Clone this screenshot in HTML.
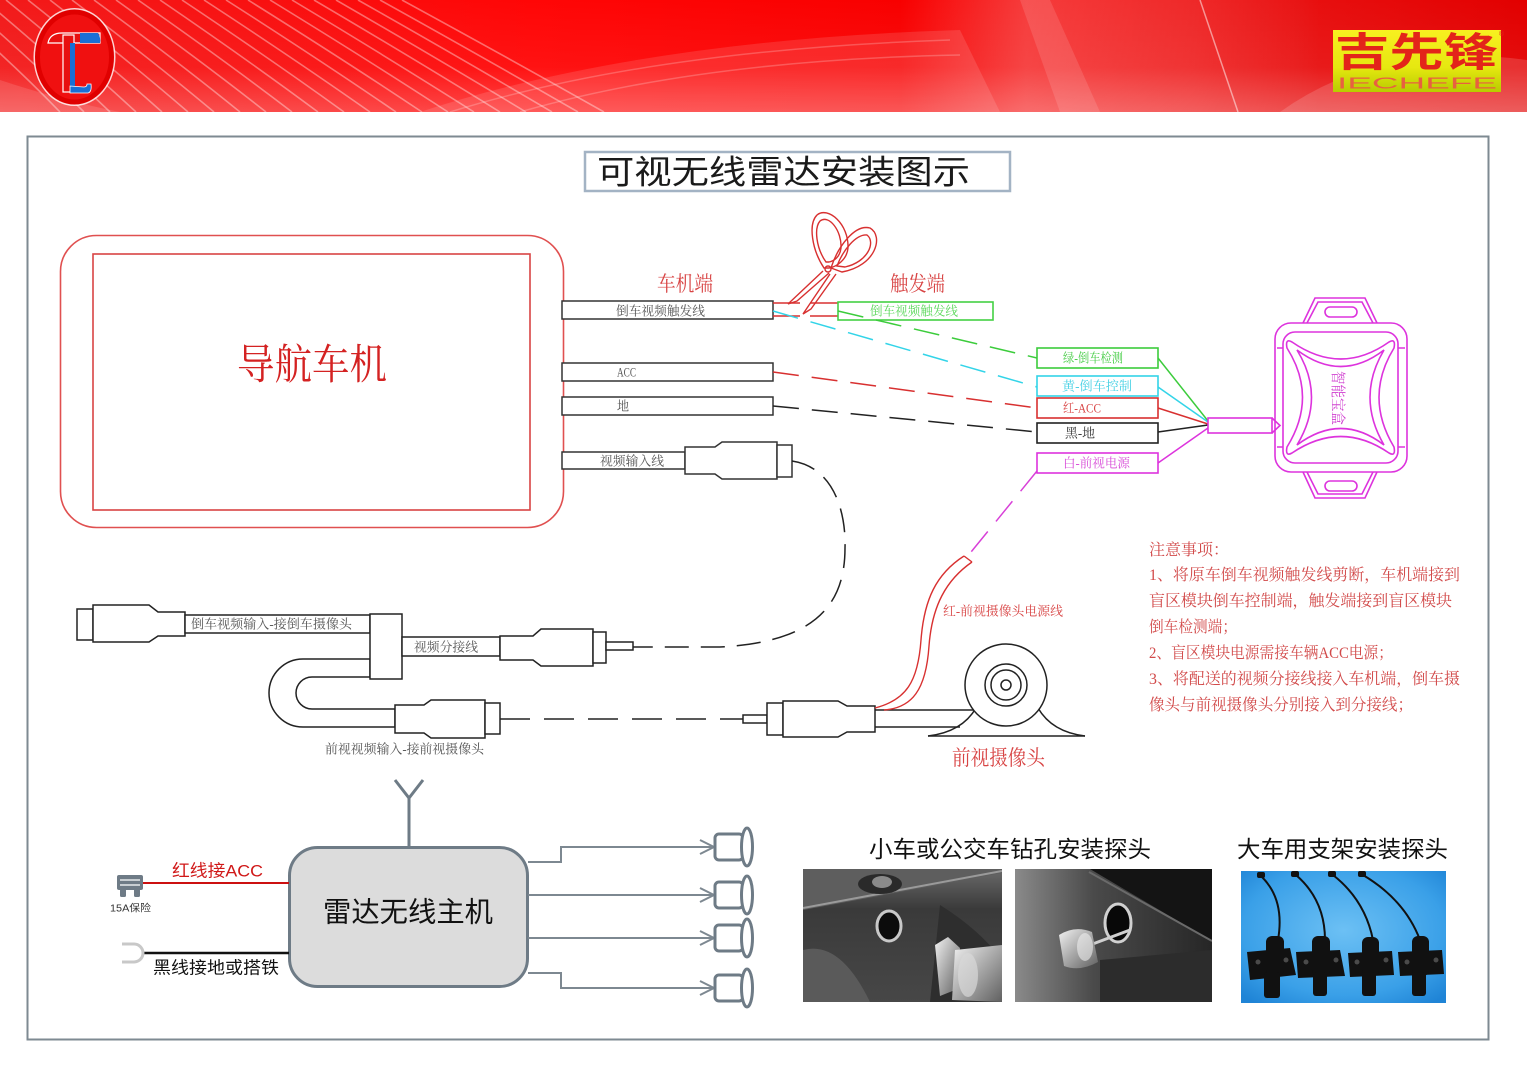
<!DOCTYPE html>
<html>
<head>
<meta charset="utf-8">
<style>
html,body{margin:0;padding:0;background:#fff;}
body{width:1527px;height:1080px;overflow:hidden;position:relative;}
svg{position:absolute;left:0;top:0;}
.sans{font-family:"Liberation Sans","Noto Sans CJK SC",sans-serif;}
.serif{font-family:"Liberation Serif","Noto Serif CJK SC",serif;}
</style>
</head>
<body>
<svg width="1527" height="1080" viewBox="0 0 1527 1080" xmlns="http://www.w3.org/2000/svg">
<defs>
  <linearGradient id="hdr" x1="0" y1="0" x2="1" y2="0">
    <stop offset="0" stop-color="#f21a1a"/>
    <stop offset="0.35" stop-color="#ff0606"/>
    <stop offset="0.6" stop-color="#f80000"/>
    <stop offset="0.85" stop-color="#e81010"/>
    <stop offset="1" stop-color="#e20000"/>
  </linearGradient>
  <linearGradient id="hdrv" x1="0" y1="0" x2="0" y2="1">
    <stop offset="0" stop-color="#fff" stop-opacity="0"/>
    <stop offset="0.6" stop-color="#fff" stop-opacity="0.05"/>
    <stop offset="1" stop-color="#fff" stop-opacity="0.25"/>
  </linearGradient>
  <linearGradient id="sheen" x1="0" y1="0" x2="1" y2="0">
    <stop offset="0" stop-color="#fff" stop-opacity="0"/>
    <stop offset="0.3" stop-color="#fff" stop-opacity="0.22"/>
    <stop offset="0.7" stop-color="#fff" stop-opacity="0.12"/>
    <stop offset="1" stop-color="#fff" stop-opacity="0"/>
  </linearGradient>
  <linearGradient id="logoY" x1="0" y1="0" x2="0" y2="1">
    <stop offset="0" stop-color="#f8f020"/>
    <stop offset="0.6" stop-color="#e6e810"/>
    <stop offset="1" stop-color="#b8cc00"/>
  </linearGradient>
  <linearGradient id="silver" x1="0" y1="0" x2="1" y2="1">
    <stop offset="0" stop-color="#f2f2f2"/>
    <stop offset="0.5" stop-color="#a8a8a8"/>
    <stop offset="1" stop-color="#606060"/>
  </linearGradient>
  <linearGradient id="p1" x1="0" y1="0" x2="0" y2="1">
    <stop offset="0" stop-color="#6a6a6a"/>
    <stop offset="0.3" stop-color="#3a3a3a"/>
    <stop offset="1" stop-color="#474747"/>
  </linearGradient>
  <linearGradient id="p2" x1="0" y1="0" x2="1" y2="0">
    <stop offset="0" stop-color="#8a8a8a"/>
    <stop offset="0.4" stop-color="#4a4a4a"/>
    <stop offset="1" stop-color="#262626"/>
  </linearGradient>
  <radialGradient id="p3" cx="0.5" cy="0.45" r="0.7">
    <stop offset="0" stop-color="#6cc0f4"/>
    <stop offset="0.7" stop-color="#3aa0e8"/>
    <stop offset="1" stop-color="#1f84d6"/>
  </radialGradient>
  <clipPath id="c1"><rect x="803" y="869" width="199" height="133"/></clipPath>
  <clipPath id="c2"><rect x="1015" y="869" width="197" height="133"/></clipPath>
  <clipPath id="c3"><rect x="1241" y="871" width="205" height="132"/></clipPath>
  <clipPath id="chdr"><rect x="0" y="0" width="1527" height="112"/></clipPath>
</defs>

<!-- ================= HEADER ================= -->
<g clip-path="url(#chdr)">
  <rect x="0" y="0" width="1527" height="112" fill="url(#hdr)"/>
  <g fill="none" stroke="#fff" stroke-opacity="0.38" stroke-width="1.6">
    <path d="M-60,0 Q10,60 60,112"/>
    <path d="M-38,0 Q32,60 84,112"/>
    <path d="M-16,0 Q56,60 110,112"/>
    <path d="M6,0 Q80,60 136,112"/>
    <path d="M28,0 Q104,60 162,112"/>
    <path d="M50,0 Q128,60 188,112"/>
    <path d="M72,0 Q152,60 214,112"/>
    <path d="M94,0 Q176,60 240,112"/>
    <path d="M116,0 Q200,60 266,112"/>
    <path d="M138,0 Q224,60 292,112"/>
    <path d="M160,0 Q248,60 318,112"/>
    <path d="M182,0 Q272,60 344,112"/>
    <path d="M204,0 Q296,60 370,112"/>
    <path d="M226,0 Q320,60 396,112"/>
    <path d="M248,0 Q344,60 422,112"/>
    <path d="M270,0 Q368,60 448,112"/>
    <path d="M292,0 Q392,60 474,112"/>
    <path d="M314,0 Q416,60 500,112"/>
    <path d="M336,0 Q440,60 526,112"/>
    <path d="M358,0 Q464,60 552,112"/>
    <path d="M380,0 Q488,60 578,112"/>
    <path d="M402,0 Q512,60 604,112"/>
  </g>
  <rect x="0" y="0" width="1527" height="112" fill="url(#hdrv)"/>
  <path d="M420,112 Q640,40 960,30 L1000,112 Z" fill="#fff" fill-opacity="0.12"/>
  <g fill="none" stroke="#fff" stroke-opacity="0.22" stroke-width="1.5">
    <path d="M450,112 Q650,50 950,40"/>
    <path d="M520,112 Q700,60 960,55"/>
  </g>
  <rect x="900" y="0" width="420" height="112" fill="url(#sheen)"/>
  <path d="M1020,0 L1060,112 L1100,112 L1050,0 Z" fill="#fff" fill-opacity="0.12"/>
  <path d="M1200,0 L1238,112" stroke="#fff" stroke-opacity="0.5" stroke-width="1.5"/>
  <path d="M1280,112 Q1380,40 1527,60 L1527,112 Z" fill="#fff" fill-opacity="0.15"/>
  <path d="M0,80 Q60,100 120,112 L0,112 Z" fill="#fff" fill-opacity="0.12"/>
  <!-- left logo -->
  <ellipse cx="74.5" cy="57" rx="37" ry="45" fill="none" stroke="#fff" stroke-opacity="0.8" stroke-width="8"/>
  <ellipse cx="74.5" cy="57" rx="37" ry="45" fill="#f01010" stroke="#e00000" stroke-width="5"/>
  <path d="M48,43 Q50,33 62,33 L100,33 L100,43 Z" fill="#e81010" stroke="#fff" stroke-width="1.2"/>
  <path d="M80,33 L98,33 Q101,38 100,43 L80,43 Z" fill="#1a6fd6"/>
  <rect x="63" y="35" width="11" height="57" fill="#e81010" stroke="#fff" stroke-width="1.2"/>
  <rect x="70" y="43" width="5" height="46" fill="#1a6fd6"/>
  <path d="M70,86 L70,93 L88,93 Q92,92 91,84 L87,84 Q87,87 84,87 Z" fill="#1a6fd6" stroke="#fff" stroke-width="0.8"/>
  <!-- right logo -->
  <rect x="1333" y="30" width="168" height="62" fill="url(#logoY)"/>
  <text x="1335" y="53" class="sans" font-size="40" font-weight="bold" fill="#e3241a" dominant-baseline="central" textLength="163" lengthAdjust="spacingAndGlyphs">吉先锋</text>
  <text x="1337" y="84" class="sans" font-size="16" fill="#e86040" dominant-baseline="central" textLength="160" lengthAdjust="spacingAndGlyphs">IECHEFE</text>
  <text x="1499" y="36" class="sans" font-size="7" fill="#e3241a">®</text>
</g>

<!-- ================= FRAME ================= -->
<rect x="27.5" y="136.5" width="1461" height="903" fill="none" stroke="#7e8a92" stroke-width="2"/>

<!-- Title -->
<rect x="585" y="152" width="425" height="39" fill="#fff" stroke="#a3b3c4" stroke-width="2.5"/>
<text x="597" y="172" class="sans" font-size="33" fill="#1a1a1a" dominant-baseline="central" textLength="373" lengthAdjust="spacingAndGlyphs">可视无线雷达安装图示</text>

<!-- Navigation unit -->
<rect x="60.5" y="235.5" width="503" height="292" rx="36" fill="none" stroke="#e05050" stroke-width="1.6"/>
<rect x="93" y="254" width="437" height="256" fill="none" stroke="#d84444" stroke-width="1.6"/>
<text x="237" y="366" class="serif" font-size="42" fill="#d42222" dominant-baseline="central" textLength="150" lengthAdjust="spacingAndGlyphs">导航车机</text>

<!-- wire stubs -->
<g fill="#fff" stroke="#333" stroke-width="1.5">
  <rect x="562" y="301" width="211" height="18"/>
  <rect x="562" y="363" width="211" height="18"/>
  <rect x="562" y="397" width="211" height="18"/>
  <rect x="562" y="452" width="123" height="17"/>
  <path d="M685,447 H715 L722,442 H777 V479 H722 L715,474 H685 Z"/>
  <rect x="777" y="445" width="15" height="32"/>
</g>
<g class="serif" font-size="13" fill="#555" dominant-baseline="central">
  <text x="616" y="311" textLength="89" lengthAdjust="spacingAndGlyphs">倒车视频触发线</text>
  <text x="617" y="372" textLength="19" lengthAdjust="spacingAndGlyphs">ACC</text>
  <text x="617" y="406" textLength="12" lengthAdjust="spacingAndGlyphs">地</text>
  <text x="600" y="461" textLength="64" lengthAdjust="spacingAndGlyphs">视频输入线</text>
</g>

<!-- labels 车机端 / 触发端 -->
<text x="657" y="284" class="serif" font-size="21" fill="#d84444" dominant-baseline="central" textLength="56" lengthAdjust="spacingAndGlyphs">车机端</text>
<text x="890" y="284" class="serif" font-size="21" fill="#d84444" dominant-baseline="central" textLength="55" lengthAdjust="spacingAndGlyphs">触发端</text>

<!-- cut red wire -->
<g stroke="#d83030" stroke-width="1.5" fill="none">
  <path d="M773,303 H800 M810,303 H838 M773,316 H800 M810,316 H838"/>
</g>
<!-- scissors -->
<g stroke="#d83030" stroke-width="1.4" fill="none">
  <path d="M824,268 C812,250 808,224 817,215 C828,206 849,224 848,248 C847,260 836,267 829,268 Z"/>
  <path d="M826,262 C816,248 814,228 820,221 C829,214 842,231 841,248 C840,257 834,261 829,262 Z"/>
  <path d="M831,268 C838,246 855,224 870,228 C884,236 876,266 842,272 Z"/>
  <path d="M837,266 C843,250 856,234 867,235 C876,242 868,262 845,267 Z"/>
  <path d="M823,271 L788,304 L797,301 L829,273"/>
  <path d="M830,274 L803,314 L811,309 L836,274"/>
  <circle cx="828" cy="269" r="3"/>
</g>

<!-- green trigger box -->
<rect x="838" y="302" width="155" height="18" fill="#fff" stroke="#44d044" stroke-width="1.6"/>
<text x="870" y="311" class="serif" font-size="13" fill="#5ad85a" dominant-baseline="central" textLength="88" lengthAdjust="spacingAndGlyphs">倒车视频触发线</text>

<!-- dashed signal lines -->
<g fill="none" stroke-width="1.5" stroke-dasharray="26 13">
  <path d="M838,311 L1037,358" stroke="#3ccc3c"/>
  <path d="M773,311 L1037,387" stroke="#33d4e8"/>
  <path d="M773,372 L1037,408" stroke="#d83030"/>
  <path d="M773,406 L1037,432" stroke="#222"/>
  <path d="M1037,471 L967,557" stroke="#d840d8"/>
</g>

<!-- right label boxes -->
<g fill="#fff" stroke-width="1.6">
  <rect x="1037" y="348" width="121" height="20" stroke="#3ccc3c"/>
  <rect x="1037" y="376" width="121" height="20" stroke="#33d4e8"/>
  <rect x="1037" y="398" width="121" height="20" stroke="#d83030"/>
  <rect x="1037" y="423" width="121" height="20" stroke="#222"/>
  <rect x="1037" y="453" width="121" height="20" stroke="#dd33dd"/>
</g>
<g class="serif" font-size="13" dominant-baseline="central">
  <text x="1063" y="358" fill="#44cc44" textLength="60" lengthAdjust="spacingAndGlyphs">绿-倒车检测</text>
  <text x="1062" y="386" fill="#44d0e4" textLength="70" lengthAdjust="spacingAndGlyphs">黄-倒车控制</text>
  <text x="1063" y="408" fill="#d84444" textLength="38" lengthAdjust="spacingAndGlyphs">红-ACC</text>
  <text x="1065" y="433" fill="#333" textLength="30" lengthAdjust="spacingAndGlyphs">黑-地</text>
  <text x="1063" y="463" fill="#d84cd8" textLength="67" lengthAdjust="spacingAndGlyphs">白-前视电源</text>
</g>
<g fill="none" stroke-width="1.5">
  <path d="M1158,358 L1208,421" stroke="#3ccc3c"/>
  <path d="M1158,387 L1208,422" stroke="#33d4e8"/>
  <path d="M1158,408 L1208,424" stroke="#d83030"/>
  <path d="M1158,432 L1208,425" stroke="#222"/>
  <path d="M1158,463 L1208,428" stroke="#dd33dd"/>
</g>

<!-- smart box -->
<g fill="none" stroke="#dd33dd" stroke-width="1.6">
  <rect x="1208" y="418" width="64" height="15" fill="#fff"/>
  <path d="M1272,418 L1280,425.5 L1272,433"/>
  <path d="M1303,323 L1315,298 H1365 L1377,323"/>
  <path d="M1307,323 L1318,302 H1362 L1373,323"/>
  <rect x="1325" y="307" width="32" height="10" rx="5"/>
  <path d="M1303,472 L1315,498 H1365 L1377,472"/>
  <path d="M1307,472 L1318,494 H1362 L1373,472"/>
  <rect x="1325" y="481" width="32" height="10" rx="5"/>
  <rect x="1275" y="323" width="132" height="149" rx="16"/>
  <rect x="1283" y="332" width="115" height="131" rx="12"/>
  <path d="M1277,348 H1283 M1398,348 H1405 M1277,447 H1283 M1398,447 H1405"/>
  <path d="M1292,342 Q1341,376 1389,342 Q1396,338 1394,348 Q1364,397 1394,447 Q1396,457 1389,453 Q1341,420 1292,453 Q1285,457 1287,447 Q1318,397 1287,348 Q1285,338 1292,342 Z"/>
  <path d="M1297,350 Q1341,383 1384,350 Q1356,397 1384,445 Q1341,412 1297,445 Q1326,397 1297,350 Z"/>
</g>
<text transform="translate(1337,398) rotate(90)" x="-27" y="0" class="serif" font-size="15" fill="#d040d0" dominant-baseline="central" textLength="54" lengthAdjust="spacingAndGlyphs">智能宝盒</text>

<!-- notes -->
<g class="serif" font-size="16" fill="#d24a4a">
  <text x="1149" y="555">注意事项：</text>
  <text x="1149" y="580" textLength="311" lengthAdjust="spacingAndGlyphs">1、将原车倒车视频触发线剪断，车机端接到</text>
  <text x="1149" y="606" textLength="303" lengthAdjust="spacingAndGlyphs">盲区模块倒车控制端，触发端接到盲区模块</text>
  <text x="1149" y="632" textLength="88" lengthAdjust="spacingAndGlyphs">倒车检测端；</text>
  <text x="1149" y="658" textLength="244" lengthAdjust="spacingAndGlyphs">2、盲区模块电源需接车辆ACC电源；</text>
  <text x="1149" y="684" textLength="311" lengthAdjust="spacingAndGlyphs">3、将配送的视频分接线接入车机端，倒车摄</text>
  <text x="1149" y="710" textLength="264" lengthAdjust="spacingAndGlyphs">像头与前视摄像头分别接入到分接线；</text>
</g>

<!-- video dashed curve from nav connector -->
<path d="M792,461 C838,468 846,520 845,548 C845,605 815,642 720,647 L633,647" fill="none" stroke="#222" stroke-width="1.5" stroke-dasharray="24 12"/>

<!-- splitter (lower-left) -->
<g fill="#fff" stroke="#222" stroke-width="1.5">
  <rect x="77" y="609" width="16" height="31"/>
  <path d="M93,605 H149 L158,612 H185 V636 H158 L149,642 H93 Z"/>
  <rect x="185" y="615" width="185" height="18"/>
  <path d="M370,659 H303 A34,34 0 0 0 303,727 H395 V709 H312 A16,16 0 0 1 312,677 H370 Z"/>
  <rect x="370" y="614" width="32" height="65"/>
  <rect x="402" y="637" width="98" height="19"/>
  <path d="M500,636 H533 L541,629 H593 V666 H541 L533,660 H500 Z"/>
  <rect x="593" y="632" width="13" height="31"/>
  <rect x="606" y="642" width="27" height="8"/>
  <path d="M395,705 H424 L431,700 H485 V738 H431 L424,733 H395 Z"/>
  <rect x="485" y="703" width="15" height="31"/>
</g>
<path d="M500,719 L743,719" fill="none" stroke="#222" stroke-width="1.5" stroke-dasharray="30 14"/>
<g class="serif" font-size="13" fill="#555" dominant-baseline="central">
  <text x="191" y="624" textLength="161" lengthAdjust="spacingAndGlyphs">倒车视频输入-接倒车摄像头</text>
  <text x="414" y="647" textLength="64" lengthAdjust="spacingAndGlyphs">视频分接线</text>
  <text x="325" y="749" textLength="159" lengthAdjust="spacingAndGlyphs">前视视频输入-接前视摄像头</text>
</g>

<!-- front camera -->
<g fill="#fff" stroke="#222" stroke-width="1.5">
  <rect x="743" y="715" width="24" height="8"/>
  <rect x="767" y="703" width="16" height="32"/>
  <path d="M783,701 H838 L847,706 H875 V732 H847 L838,737 H783 Z"/>
</g>
<g fill="none" stroke="#222" stroke-width="1.5">
  <path d="M875,710 H975 M875,727 H960"/>
  <path d="M928,736 H1085"/>
  <path d="M928,736 Q962,732 976,708"/>
  <path d="M1038,708 Q1052,732 1085,736"/>
  <circle cx="1006" cy="685" r="41" fill="#fff"/>
  <circle cx="1006" cy="685" r="21"/>
  <circle cx="1006" cy="685" r="15"/>
  <circle cx="1006" cy="685" r="5"/>
</g>
<!-- red power cable -->
<g fill="none" stroke="#d83030" stroke-width="1.4">
  <path d="M964,556 C936,574 924,600 921,640 C918,682 906,700 875,708"/>
  <path d="M972,562 C946,580 932,606 929,646 C926,690 912,708 884,710"/>
  <path d="M964,556 L972,562"/>
</g>
<text x="943" y="611" class="serif" font-size="13" fill="#d84444" dominant-baseline="central" textLength="120" lengthAdjust="spacingAndGlyphs">红-前视摄像头电源线</text>
<text x="952" y="758" class="serif" font-size="21" fill="#d84444" dominant-baseline="central" textLength="93" lengthAdjust="spacingAndGlyphs">前视摄像头</text>

<!-- ================= RADAR HOST ================= -->
<g fill="none" stroke="#6e7b86" stroke-width="3">
  <path d="M409,798 V848"/>
  <path d="M395,780 L409,798 L423,780"/>
</g>
<rect x="289.5" y="847.5" width="238" height="139" rx="28" fill="#dcdcdc" stroke="#6e7b86" stroke-width="3"/>
<text x="323" y="912" class="sans" font-size="28" fill="#111" dominant-baseline="central" textLength="170" lengthAdjust="spacingAndGlyphs">雷达无线主机</text>

<!-- left inputs -->
<line x1="142" y1="883" x2="289" y2="883" stroke="#cc1010" stroke-width="2"/>
<line x1="144" y1="953" x2="289" y2="953" stroke="#111" stroke-width="2.5"/>
<text x="172" y="871" class="sans" font-size="17" fill="#d01818" dominant-baseline="central" textLength="91" lengthAdjust="spacingAndGlyphs">红线接ACC</text>
<text x="153" y="968" class="sans" font-size="17" fill="#111" dominant-baseline="central" textLength="126" lengthAdjust="spacingAndGlyphs">黑线接地或搭铁</text>
<!-- fuse icon -->
<rect x="117" y="875" width="26" height="15" rx="2" fill="#6e7b86"/>
<path d="M120,880 H140 M120,885 H140" stroke="#fff" stroke-width="1.2"/>
<rect x="120" y="889" width="6" height="8" rx="1.5" fill="#6e7b86"/>
<rect x="134" y="889" width="6" height="8" rx="1.5" fill="#6e7b86"/>
<text x="110" y="909" class="sans" font-size="10" fill="#333" dominant-baseline="central" textLength="41" lengthAdjust="spacingAndGlyphs">15A保险</text>
<!-- ground icon -->
<path d="M122,944 H134 A9,9 0 0 1 134,962 H122" fill="none" stroke="#c8c8c8" stroke-width="3"/>

<!-- outputs -->
<g fill="none" stroke="#7d8891" stroke-width="2">
  <path d="M528,862 H561 V847 H714"/>
  <path d="M528,895 H714"/>
  <path d="M528,938 H714"/>
  <path d="M528,973 H561 V988 H714"/>
  <path d="M700,840 L714,847 L700,854"/>
  <path d="M700,888 L714,895 L700,902"/>
  <path d="M700,931 L714,938 L700,945"/>
  <path d="M700,981 L714,988 L700,995"/>
</g>
<g fill="#fff" stroke="#6e7b86" stroke-width="3">
  <rect x="715" y="834" width="28" height="26" rx="4"/>
  <ellipse cx="747" cy="847" rx="5.5" ry="19"/>
  <rect x="715" y="882" width="28" height="26" rx="4"/>
  <ellipse cx="747" cy="895" rx="5.5" ry="19"/>
  <rect x="715" y="925" width="28" height="26" rx="4"/>
  <ellipse cx="747" cy="938" rx="5.5" ry="19"/>
  <rect x="715" y="975" width="28" height="26" rx="4"/>
  <ellipse cx="747" cy="988" rx="5.5" ry="19"/>
</g>

<!-- ================= PHOTOS ================= -->
<text x="869" y="849" class="sans" font-size="23" fill="#111" dominant-baseline="central" textLength="282" lengthAdjust="spacingAndGlyphs">小车或公交车钻孔安装探头</text>
<text x="1237" y="849" class="sans" font-size="23" fill="#111" dominant-baseline="central" textLength="211" lengthAdjust="spacingAndGlyphs">大车用支架安装探头</text>

<!-- photo 1 -->
<g clip-path="url(#c1)">
  <rect x="803" y="869" width="199" height="133" fill="url(#p1)"/>
  <path d="M803,869 H1002 V873 L803,910 Z" fill="#5e5e5e"/>
  <path d="M803,908 L1002,871" stroke="#9a9a9a" stroke-width="2"/>
  <ellipse cx="880" cy="884" rx="22" ry="10" fill="#2a2a2a"/>
  <ellipse cx="882" cy="882" rx="10" ry="6" fill="#8a8a8a"/>
  <path d="M803,950 Q840,940 870,1002 H803 Z" fill="#5a5a5a"/>
  <path d="M940,905 Q980,930 1002,960 V1002 H930 Z" fill="#2e2e2e"/>
  <ellipse cx="889" cy="926" rx="12" ry="15" fill="#0c0c0c" stroke="#c8c8c8" stroke-width="3"/>
  <path d="M935,945 L948,937 L960,948 L955,990 L940,996 Z" fill="url(#silver)"/>
  <path d="M955,950 L1002,945 V1002 L952,1000 Z" fill="url(#silver)"/>
  <ellipse cx="968" cy="975" rx="10" ry="22" fill="#d8d8d8" opacity="0.7"/>
</g>
<!-- photo 2 -->
<g clip-path="url(#c2)">
  <rect x="1015" y="869" width="197" height="133" fill="url(#p2)"/>
  <path d="M1090,869 H1212 V941 Z" fill="#141414"/>
  <path d="M1089,872 L1212,941" stroke="#6a6a6a" stroke-width="2"/>
  <path d="M1100,960 L1212,950 V1002 H1100 Z" fill="#2c2c2c"/>
  <ellipse cx="1118" cy="923" rx="13" ry="19" fill="#080808" stroke="#d0d0d0" stroke-width="3"/>
  <line x1="1090" y1="945" x2="1130" y2="930" stroke="#cfcfcf" stroke-width="3"/>
  <path d="M1059,935 Q1075,925 1092,932 L1098,962 Q1080,972 1064,966 Z" fill="url(#silver)"/>
  <ellipse cx="1085" cy="947" rx="8" ry="14" fill="#eee" opacity="0.6"/>
</g>
<!-- photo 3 -->
<g clip-path="url(#c3)">
  <rect x="1241" y="871" width="205" height="132" fill="url(#p3)"/>
  <g fill="none" stroke="#111" stroke-width="2">
    <path d="M1262,877 Q1285,900 1278,940"/>
    <path d="M1296,875 Q1325,900 1325,940"/>
    <path d="M1333,875 Q1365,900 1373,940"/>
    <path d="M1363,875 Q1405,900 1420,940"/>
  </g>
  <g fill="#111">
    <rect x="1257" y="872" width="8" height="6" rx="2"/>
    <rect x="1291" y="871" width="8" height="6" rx="2"/>
    <rect x="1328" y="871" width="8" height="6" rx="2"/>
    <rect x="1358" y="871" width="8" height="6" rx="2"/>
    <path d="M1247,952 L1290,948 L1296,975 L1250,980 Z"/>
    <rect x="1266" y="936" width="18" height="40" rx="6"/>
    <rect x="1264" y="972" width="16" height="26" rx="3"/>
    <path d="M1296,952 L1340,950 L1345,976 L1298,978 Z"/>
    <rect x="1312" y="936" width="18" height="40" rx="6"/>
    <rect x="1313" y="972" width="14" height="24" rx="3"/>
    <path d="M1348,953 L1392,951 L1394,975 L1350,977 Z"/>
    <rect x="1362" y="937" width="17" height="39" rx="6"/>
    <rect x="1362" y="972" width="14" height="24" rx="3"/>
    <path d="M1398,952 L1442,950 L1444,974 L1400,976 Z"/>
    <rect x="1412" y="936" width="17" height="40" rx="6"/>
    <rect x="1412" y="972" width="14" height="24" rx="3"/>
  </g>
  <g fill="#4a4a4a">
    <circle cx="1258" cy="962" r="2.5"/><circle cx="1286" cy="960" r="2.5"/>
    <circle cx="1306" cy="962" r="2.5"/><circle cx="1336" cy="960" r="2.5"/>
    <circle cx="1357" cy="962" r="2.5"/><circle cx="1386" cy="960" r="2.5"/>
    <circle cx="1407" cy="962" r="2.5"/><circle cx="1436" cy="960" r="2.5"/>
  </g>
</g>
</svg>
</body>
</html>
